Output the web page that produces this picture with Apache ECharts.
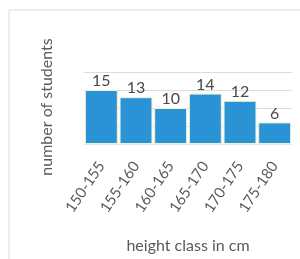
<!DOCTYPE html>
<html><head><meta charset="utf-8">
<script src="https://cdn.jsdelivr.net/npm/echarts@6/dist/echarts.min.js"></script>
<style>html,body{margin:0;padding:0;background:#fff}#c{width:300px;height:259px}</style>
</head><body><div id="c"></div>
<script>
var categories = ['150-155','155-160','160-165','165-170','170-175','175-180'];
var students = [15, 13, 10, 14, 12, 6];
var xTitle = 'height class in cm';
var yTitle = 'number of students';

var chart = echarts.init(document.getElementById('c'), null, {renderer:'canvas'});
var font = 'Lato, "Open Sans", sans-serif';
chart.setOption({
  animation: false,
  backgroundColor: '#fff',
  grid: {left: 84, right: 8, top: 72, bottom: 115},
  graphic: [
    {type:'line', shape:{x1:9, y1:10, x2:300, y2:10}, style:{stroke:'#dcdcdc', lineWidth:1}},
    {type:'line', shape:{x1:9, y1:10, x2:9, y2:259}, style:{stroke:'#dcdcdc', lineWidth:1}},
    {type:'text', x:47, y:107, rotation: Math.PI/2,
     style:{text: yTitle, fill:'#5a5a5a', font:'16px ' + font, textAlign:'center', textVerticalAlign:'middle'}}
  ],
  xAxis: {
    type: 'category', data: categories,
    name: xTitle, nameLocation: 'middle', nameGap: 94,
    nameTextStyle: {color:'#5a5a5a', fontSize: 16, fontFamily: font},
    axisLine: {show: true, lineStyle: {color: '#e6e6e6'}},
    axisTick: {show: false},
    axisLabel: {rotate: 56, margin: 19, color: '#5a5a5a', fontSize: 15, fontFamily: font}
  },
  yAxis: {
    type: 'value', min: 0, max: 20, interval: 5,
    axisLine: {show:false}, axisTick:{show:false},
    axisLabel: {show:false},
    splitLine: {lineStyle:{color:'#dcdcdc'}}
  },
  series: [{
    type: 'bar', data: students, barCategoryGap: '5%',
    itemStyle: {color: '#2a93d5', borderColor: '#eef2d6', borderWidth: 1},
    label: {show: true, position: 'top', distance: 1, color: '#4a4a4a', fontSize: 16, fontFamily: font}
  }]
});
</script></body></html>
